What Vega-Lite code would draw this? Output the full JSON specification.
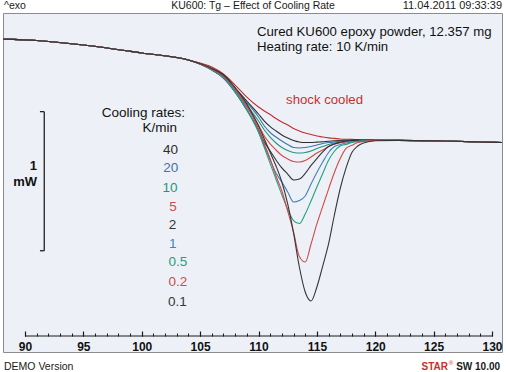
{
  "$schema": "https://vega.github.io/schema/vega-lite/v6.json",
  "width": 499,
  "height": 339,
  "autosize": {"type": "none"},
  "padding": {"left": 3, "top": 13, "right": 4, "bottom": 20},
  "background": "#ffffff",
  "config": {
    "view": {"fill": "#edf1f7", "stroke": "#8c8c8c", "strokeWidth": 1},
    "font": "Liberation Sans",
    "text": {"font": "Liberation Sans"}
  },
  "datasets": {
    "curves": [
      {"T":88.116,"shock":0.746,"r40":0.746,"r20":0.746,"r10":0.746,"r5":0.746,"r2":0.746,"r1":0.746,"r0_5":0.746,"r0_2":0.746,"r0_1":0.746},
      {"T":91,"shock":0.736,"r40":0.736,"r20":0.736,"r10":0.736,"r5":0.736,"r2":0.736,"r1":0.736,"r0_5":0.736,"r0_2":0.736,"r0_1":0.736},
      {"T":95,"shock":0.703,"r40":0.703,"r20":0.703,"r10":0.703,"r5":0.703,"r2":0.703,"r1":0.703,"r0_5":0.703,"r0_2":0.703,"r0_1":0.703},
      {"T":100,"shock":0.645,"r40":0.645,"r20":0.645,"r10":0.645,"r5":0.645,"r2":0.645,"r1":0.645,"r0_5":0.645,"r0_2":0.645,"r0_1":0.645},
      {"T":104,"shock":0.594,"r40":0.594,"r20":0.594,"r10":0.594,"r5":0.594,"r2":0.594,"r1":0.594,"r0_5":0.594,"r0_2":0.594,"r0_1":0.594},
      {"T":106,"shock":0.543,"r40":0.533,"r20":0.529,"r10":0.525,"r5":0.522,"r2":0.522,"r1":0.522,"r0_5":0.525,"r0_2":0.529,"r0_1":0.533},
      {"T":107,"shock":0.493,"r40":0.486,"r20":0.478,"r10":0.471,"r5":0.464,"r2":0.464,"r1":0.464,"r0_5":0.471,"r0_2":0.478,"r0_1":0.486},
      {"T":108,"shock":0.413,"r40":0.391,"r20":0.384,"r10":0.377,"r5":0.370,"r2":0.362,"r1":0.362,"r0_5":0.370,"r0_2":0.384,"r0_1":0.395},
      {"T":109,"shock":0.326,"r40":0.297,"r20":0.286,"r10":0.268,"r5":0.254,"r2":0.232,"r1":0.232,"r0_5":0.239,"r0_2":0.261,"r0_1":0.275},
      {"T":110,"shock":0.254,"r40":0.203,"r20":0.181,"r10":0.152,"r5":0.123,"r2":0.087,"r1":0.072,"r0_5":0.072,"r0_2":0.094,"r0_1":0.116},
      {"T":110.5,"shock":0.225,"r40":0.152,"r20":0.116,"r10":0.087,"r5":0.043,"r2":0,"r1":-0.029,"r0_5":-0.041,"r0_2":-0.014,"r0_1":0.022},
      {"T":111,"shock":0.199,"r40":0.112,"r20":0.069,"r10":0.036,"r5":-0.014,"r2":-0.065,"r1":-0.130,"r0_5":-0.157,"r0_2":-0.123,"r0_1":-0.076},
      {"T":111.5,"shock":0.170,"r40":0.080,"r20":0.036,"r10":-0.007,"r5":-0.058,"r2":-0.130,"r1":-0.225,"r0_5":-0.270,"r0_2":-0.246,"r0_1":-0.174},
      {"T":112,"shock":0.145,"r40":0.051,"r20":0.007,"r10":-0.040,"r5":-0.098,"r2":-0.188,"r1":-0.290,"r0_5":-0.382,"r0_2":-0.355,"r0_1":-0.290},
      {"T":112.5,"shock":0.123,"r40":0.029,"r20":-0.018,"r10":-0.062,"r5":-0.123,"r2":-0.232,"r1":-0.362,"r0_5":-0.487,"r0_2":-0.500,"r0_1":-0.449},
      {"T":113,"shock":0.098,"r40":0.011,"r20":-0.040,"r10":-0.076,"r5":-0.141,"r2":-0.275,"r1":-0.435,"r0_5":-0.569,"r0_2":-0.652,"r0_1":-0.659},
      {"T":113.5,"shock":0.080,"r40":0,"r20":-0.043,"r10":-0.080,"r5":-0.145,"r2":-0.268,"r1":-0.424,"r0_5":-0.591,"r0_2":-0.830,"r0_1":-0.906},
      {"T":114,"shock":0.065,"r40":-0.004,"r20":-0.040,"r10":-0.076,"r5":-0.134,"r2":-0.228,"r1":-0.391,"r0_5":-0.522,"r0_2":-0.870,"r0_1":-1.087},
      {"T":114.5,"shock":0.054,"r40":-0.004,"r20":-0.033,"r10":-0.065,"r5":-0.109,"r2":-0.170,"r1":-0.304,"r0_5":-0.427,"r0_2":-0.739,"r0_1":-1.152},
      {"T":115,"shock":0.043,"r40":-0.001,"r20":-0.022,"r10":-0.047,"r5":-0.080,"r2":-0.120,"r1":-0.221,"r0_5":-0.326,"r0_2":-0.594,"r0_1":-1.051},
      {"T":115.5,"shock":0.036,"r40":0.002,"r20":-0.011,"r10":-0.033,"r5":-0.058,"r2":-0.072,"r1":-0.145,"r0_5":-0.228,"r0_2":-0.467,"r0_1":-0.899},
      {"T":116,"shock":0.030,"r40":0.006,"r20":-0.004,"r10":-0.018,"r5":-0.033,"r2":-0.033,"r1":-0.076,"r0_5":-0.133,"r0_2":-0.341,"r0_1":-0.739},
      {"T":116.5,"shock":0.026,"r40":0.009,"r20":0.001,"r10":-0.007,"r5":-0.014,"r2":-0.014,"r1":-0.033,"r0_5":-0.067,"r0_2":-0.221,"r0_1":-0.529},
      {"T":117,"shock":0.022,"r40":0.011,"r20":0.005,"r10":0,"r5":-0.006,"r2":-0.002,"r1":-0.018,"r0_5":-0.029,"r0_2":-0.120,"r0_1":-0.337},
      {"T":117.5,"shock":0.020,"r40":0.012,"r20":0.007,"r10":0.004,"r5":0.001,"r2":0.007,"r1":-0.007,"r0_5":-0.017,"r0_2":-0.047,"r0_1":-0.188},
      {"T":118,"shock":0.019,"r40":0.013,"r20":0.009,"r10":0.006,"r5":0.006,"r2":0.011,"r1":0,"r0_5":-0.004,"r0_2":-0.024,"r0_1":-0.076},
      {"T":118.5,"shock":0.017,"r40":0.014,"r20":0.011,"r10":0.009,"r5":0.009,"r2":0.012,"r1":0.005,"r0_5":0.004,"r0_2":-0.004,"r0_1":-0.029},
      {"T":119,"shock":0.016,"r40":0.014,"r20":0.012,"r10":0.011,"r5":0.011,"r2":0.013,"r1":0.007,"r0_5":0.007,"r0_2":0.004,"r0_1":-0.007},
      {"T":120,"shock":0.014,"r40":0.014,"r20":0.014,"r10":0.013,"r5":0.013,"r2":0.014,"r1":0.012,"r0_5":0.012,"r0_2":0.012,"r0_1":0.009},
      {"T":122,"shock":0.012,"r40":0.012,"r20":0.012,"r10":0.012,"r5":0.012,"r2":0.012,"r1":0.012,"r0_5":0.012,"r0_2":0.012,"r0_1":0.012},
      {"T":126,"shock":0.007,"r40":0.007,"r20":0.007,"r10":0.007,"r5":0.007,"r2":0.007,"r1":0.007,"r0_5":0.007,"r0_2":0.007,"r0_1":0.007},
      {"T":130.856,"shock":-0.004,"r40":-0.004,"r20":-0.004,"r10":-0.004,"r5":-0.004,"r2":-0.004,"r1":-0.004,"r0_5":-0.004,"r0_2":-0.004,"r0_1":-0.004}
    ]
  },
  "layer": [
    {
      "data": {"name": "curves"},
      "transform": [{"fold": ["shock","r40","r20","r10","r5","r2","r1","r0_5","r0_2","r0_1"], "as": ["rate","mW"]}],
      "mark": {"type": "line", "strokeWidth": 1.1, "interpolate": "monotone"},
      "encoding": {
        "x": {"field": "T", "type": "quantitative",
              "scale": {"domain": [88.116, 130.856], "nice": false, "zero": false},
              "axis": {"orient": "bottom", "values": [90,95,100,105,110,115,120,125,130], "offset": -16, "domain": false, "grid": false,
                       "tickSize": -5, "tickColor": "#1a1a1a", "tickWidth": 1.2,
                       "labelFont": "Liberation Sans", "labelFontWeight": "bold", "labelFontSize": 12, "labelColor": "#111111",
                       "labelPadding": 10, "labelFlush": false, "labelOverlap": false, "title": null}},
        "y": {"field": "mW", "type": "quantitative",
              "scale": {"domain": [-1.522, 0.935], "nice": false, "zero": false}, "axis": null},
        "color": {"field": "rate", "type": "nominal",
                  "scale": {"domain": ["shock","r40","r20","r10","r5","r2","r1","r0_5","r0_2","r0_1"],
                            "range": ["#c42a2c","#2d2d2d","#3b74b0","#21967a","#cf4a46","#333333","#4380bf","#23a07c","#d0494a","#363636"]},
                  "legend": null}
      }
    },
    {
      "data": {"values": [{"T": 90, "T2": 130, "v": -1.406}]},
      "mark": {"type": "rule", "color": "#1a1a1a", "strokeWidth": 1.2},
      "encoding": {
        "x": {"field": "T", "type": "quantitative",
              "axis": {"orient": "bottom", "values": [90,91,92,93,94,95,96,97,98,99,100,101,102,103,104,105,106,107,108,109,110,111,112,113,114,115,116,117,118,119,120,121,122,123,124,125,126,127,128,129,130],
                       "offset": -16, "domain": false, "grid": false, "tickSize": -3, "tickColor": "#1a1a1a", "tickWidth": 1,
                       "labels": false, "title": null}},
        "x2": {"field": "T2"},
        "y": {"field": "v", "type": "quantitative", "axis": null}
      }
    },
    {
      "data": {"values": [
        {"T": 91.65, "T2": 91.65, "v": 0.220, "v2": -0.788},
        {"T": 91.28, "T2": 91.65, "v": 0.220, "v2": 0.220},
        {"T": 91.28, "T2": 91.65, "v": -0.788, "v2": -0.788}
      ]},
      "mark": {"type": "rule", "color": "#222222", "strokeWidth": 1.3},
      "encoding": {
        "x": {"field": "T", "type": "quantitative", "axis": null},
        "x2": {"field": "T2"},
        "y": {"field": "v", "type": "quantitative", "axis": null},
        "y2": {"field": "v2"}
      }
    },
    {
      "data": {"values": [{"t": "^exo", "T": 88.2, "v": 0.986}, {"t": "DEMO Version", "T": 88.2, "v": -1.630}]},
      "mark": {"type": "text", "align": "left", "baseline": "middle", "fontSize": 10.5, "color": "#1a1a1a"},
      "encoding": {
        "x": {"field": "T", "type": "quantitative", "axis": null},
        "y": {"field": "v", "type": "quantitative", "axis": null},
        "text": {"field": "t"}
      }
    },
    {
      "data": {"values": [{"t": "KU600: Tg – Effect of Cooling Rate", "T": 109.53, "v": 0.986}]},
      "mark": {"type": "text", "align": "center", "baseline": "middle", "fontSize": 10.5, "color": "#1a1a1a"},
      "encoding": {
        "x": {"field": "T", "type": "quantitative", "axis": null},
        "y": {"field": "v", "type": "quantitative", "axis": null},
        "text": {"field": "t"}
      }
    },
    {
      "data": {"values": [{"t": "11.04.2011 09:33:39", "T": 130.856, "v": 0.986}]},
      "mark": {"type": "text", "align": "right", "baseline": "middle", "fontSize": 11, "color": "#1a1a1a"},
      "encoding": {
        "x": {"field": "T", "type": "quantitative", "axis": null},
        "y": {"field": "v", "type": "quantitative", "axis": null},
        "text": {"field": "t"}
      }
    },
    {
      "data": {"values": [{"t": "SW 10.00", "T": 130.69, "v": -1.630}]},
      "mark": {"type": "text", "align": "right", "baseline": "middle", "fontSize": 10, "fontWeight": "bold", "color": "#1a1a1a"},
      "encoding": {
        "x": {"field": "T", "type": "quantitative", "axis": null},
        "y": {"field": "v", "type": "quantitative", "axis": null},
        "text": {"field": "t"}
      }
    },
    {
      "data": {"values": [{"t": "STAR", "T": 126.23, "v": -1.630}]},
      "mark": {"type": "text", "align": "right", "baseline": "middle", "fontSize": 10, "fontWeight": "bold", "color": "#c8302c"},
      "encoding": {
        "x": {"field": "T", "type": "quantitative", "axis": null},
        "y": {"field": "v", "type": "quantitative", "axis": null},
        "text": {"field": "t"}
      }
    },
    {
      "data": {"values": [{"t": "®", "T": 126.49, "v": -1.603}]},
      "mark": {"type": "text", "align": "center", "baseline": "middle", "fontSize": 6, "color": "#c8302c"},
      "encoding": {
        "x": {"field": "T", "type": "quantitative", "axis": null},
        "y": {"field": "v", "type": "quantitative", "axis": null},
        "text": {"field": "t"}
      }
    },
    {
      "data": {"values": [
        {"t": "Cured KU600 epoxy powder, 12.357 mg", "T": 109.87, "v": 0.794},
        {"t": "Heating rate: 10 K/min", "T": 109.87, "v": 0.688}
      ]},
      "mark": {"type": "text", "align": "left", "baseline": "middle", "fontSize": 13.2, "color": "#111111"},
      "encoding": {
        "x": {"field": "T", "type": "quantitative", "axis": null},
        "y": {"field": "v", "type": "quantitative", "axis": null},
        "text": {"field": "t"}
      }
    },
    {
      "data": {"values": [{"t": "shock cooled", "T": 112.36, "v": 0.301}]},
      "mark": {"type": "text", "align": "left", "baseline": "middle", "fontSize": 13.2, "color": "#c8302c"},
      "encoding": {
        "x": {"field": "T", "type": "quantitative", "axis": null},
        "y": {"field": "v", "type": "quantitative", "axis": null},
        "text": {"field": "t"}
      }
    },
    {
      "data": {"values": [
        {"t": "Cooling rates:", "T": 103.70, "v": 0.207},
        {"t": "K/min", "T": 103.02, "v": 0.105}
      ]},
      "mark": {"type": "text", "align": "right", "baseline": "middle", "fontSize": 13.5, "color": "#111111"},
      "encoding": {
        "x": {"field": "T", "type": "quantitative", "axis": null},
        "y": {"field": "v", "type": "quantitative", "axis": null},
        "text": {"field": "t"}
      }
    },
    {
      "data": {"values": [
        {"t": "1", "T": 91.03, "v": -0.174},
        {"t": "mW", "T": 91.03, "v": -0.290}
      ]},
      "mark": {"type": "text", "align": "right", "baseline": "middle", "fontSize": 13, "fontWeight": "bold", "color": "#111111"},
      "encoding": {
        "x": {"field": "T", "type": "quantitative", "axis": null},
        "y": {"field": "v", "type": "quantitative", "axis": null},
        "text": {"field": "t"}
      }
    },
    {
      "data": {"values": [
        {"label": "40", "rate": "r40", "T": 102.46, "v": -0.058},
        {"label": "20", "rate": "r20", "T": 102.49, "v": -0.191},
        {"label": "10", "rate": "r10", "T": 102.42, "v": -0.331},
        {"label": "5", "rate": "r5", "T": 102.68, "v": -0.473},
        {"label": "2", "rate": "r2", "T": 102.63, "v": -0.601},
        {"label": "1", "rate": "r1", "T": 102.66, "v": -0.737},
        {"label": "0.5", "rate": "r0_5", "T": 103.09, "v": -0.872},
        {"label": "0.2", "rate": "r0_2", "T": 103.10, "v": -1.012},
        {"label": "0.1", "rate": "r0_1", "T": 103.06, "v": -1.162}
      ]},
      "mark": {"type": "text", "align": "center", "baseline": "middle", "fontSize": 13.5},
      "encoding": {
        "x": {"field": "T", "type": "quantitative", "axis": null},
        "y": {"field": "v", "type": "quantitative", "axis": null},
        "text": {"field": "label"},
        "color": {"field": "rate", "type": "nominal", "legend": null}
      }
    }
  ],
  "resolve": {"axis": {"x": "independent"}}
}
